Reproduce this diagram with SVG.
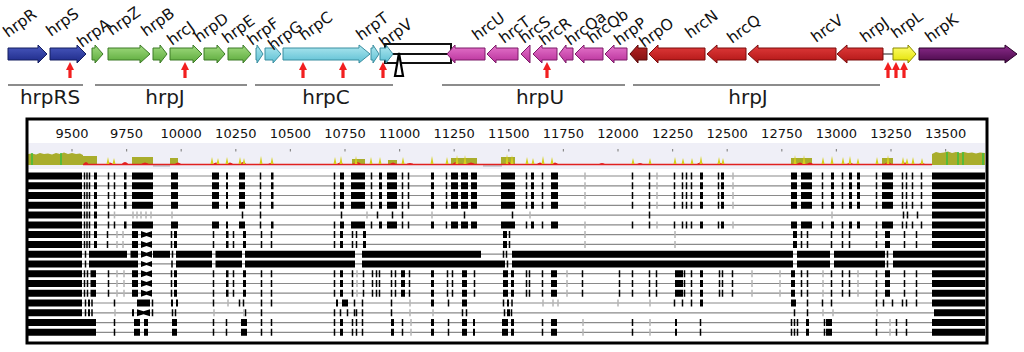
<svg xmlns="http://www.w3.org/2000/svg" width="1024" height="352" viewBox="0 0 1024 352">
<style>
.gl{font-family:"DejaVu Sans",Verdana,sans-serif;font-size:15.5px;fill:#111}
.ol{font-family:"DejaVu Sans",Verdana,sans-serif;font-size:20px;fill:#1a1a1a;text-anchor:middle}
.tl{font-family:"DejaVu Sans",Verdana,sans-serif;font-size:13px;fill:#111;text-anchor:middle}
.op{stroke:#666;stroke-width:1.5;fill:none}
.ln{stroke:#8a8a8a;stroke-width:1.2;fill:none}
.bk{stroke:#000;stroke-width:7;fill:none}
.tk{stroke:#000;stroke-width:1.5;fill:none}
.ft{stroke:#b5b5b5;stroke-width:1.5;fill:none}
.bt{fill:#000}
.ra{fill:#f21f1f}
.sp{fill:#d6cf1e}
.rh{fill:#e32020}
.ov{fill:#a9ad2c}
.gB{fill:url(#gB);stroke:#151e60;stroke-width:1}
.gG{fill:url(#gG);stroke:#3c7a26;stroke-width:1}
.gC{fill:url(#gC);stroke:#3a8ea0;stroke-width:1}
.gM{fill:url(#gM);stroke:#7c1a68;stroke-width:1}
.gR{fill:url(#gR);stroke:#7a0c0c;stroke-width:1}
.gO{fill:url(#gO);stroke:#5a0808;stroke-width:1}
.gY{fill:url(#gY);stroke:#8a8a00;stroke-width:1}
.gP{fill:url(#gP);stroke:#2a002a;stroke-width:1}
</style>
<defs>
<linearGradient id="gB" x1="0" y1="0" x2="0" y2="1"><stop offset="0" stop-color="#4a5ac0"/><stop offset="1" stop-color="#1c2886"/></linearGradient>
<linearGradient id="gG" x1="0" y1="0" x2="0" y2="1"><stop offset="0" stop-color="#a2dc80"/><stop offset="1" stop-color="#5aa93a"/></linearGradient>
<linearGradient id="gC" x1="0" y1="0" x2="0" y2="1"><stop offset="0" stop-color="#b0e8f0"/><stop offset="1" stop-color="#5cbfd3"/></linearGradient>
<linearGradient id="gM" x1="0" y1="0" x2="0" y2="1"><stop offset="0" stop-color="#e676cc"/><stop offset="1" stop-color="#b8309a"/></linearGradient>
<linearGradient id="gR" x1="0" y1="0" x2="0" y2="1"><stop offset="0" stop-color="#e23c3c"/><stop offset="1" stop-color="#b01515"/></linearGradient>
<linearGradient id="gO" x1="0" y1="0" x2="0" y2="1"><stop offset="0" stop-color="#b82424"/><stop offset="1" stop-color="#7e1010"/></linearGradient>
<linearGradient id="gY" x1="0" y1="0" x2="0" y2="1"><stop offset="0" stop-color="#ffff70"/><stop offset="1" stop-color="#e2e000"/></linearGradient>
<linearGradient id="gP" x1="0" y1="0" x2="0" y2="1"><stop offset="0" stop-color="#8c2c8c"/><stop offset="1" stop-color="#480848"/></linearGradient>
<path id="up" d="M-4 70L0 62L4 70H1.6V78H-1.6V70Z"/>
<g id="pA">
<path class="ln" d="M82 0H932"/>
<path class="bk" d="M28 0H82M94 0H97M124 0H126.5M132 0H153M171 0H178M212 0H219M226 0H228M239 0H245M271 0H273.5M340 0H344M351 0H365M379 0H382M387 0H397M431 0H434M451 0H458M461 0H468M471 0H477M501 0H515M531 0H534M551 0H558M700 0H703M721 0H724M791 0H797M801 0H812M831 0H834M849 0H852M857 0H860M882 0H893M932 0H985"/>
<path class="tk" d="M84.5-3.5v7M87-3.5v7M89.5-3.5v7M108.5-3.5v7M114.5-3.5v7M260.5-3.5v7M334.5-3.5v7M371.5-3.5v7M402.5-3.5v7M408.5-3.5v7M446.5-3.5v7M526.5-3.5v7M542.5-3.5v7M632.5-3.5v7M649.5-3.5v7M674.5-3.5v7M682.5-3.5v7M686.5-3.5v7M691.5-3.5v7M718.5-3.5v7M822.5-3.5v7M842.5-3.5v7M876.5-3.5v7M902.5-3.5v7M906.5-3.5v7M912.5-3.5v7M921.5-3.5v7"/>
<path class="ft" d="M585-3.5v7M657-3.5v7M733-3.5v7"/>
</g>
<g id="pB">
<path class="ln" d="M82 0H932"/>
<path class="bk" d="M28 0H82M94 0H97M932 0H985"/>
<path class="tk" d="M84.5-3.5v7M87-3.5v7M89.5-3.5v7M108.5-3.5v7M242.5-3.5v7M260.5-3.5v7M341.5-3.5v7M377.5-3.5v7M392.5-3.5v7M402.5-3.5v7M464.5-3.5v7M512.5-3.5v7M649.5-3.5v7M903.5-3.5v7M907.5-3.5v7M917.5-3.5v7"/>
<path class="ft" d="M114.5-3.5v7M133-3.5v7M137-3.5v7M141-3.5v7M146-3.5v7M151-3.5v7M172-3.5v7M367-3.5v7M432-3.5v7M530-3.5v7M832-3.5v7"/>
</g>
<g id="pC">
<path class="ln" d="M82 0H932"/>
<path class="bk" d="M28 0H82M94 0H97M132 0H138M174 0H177M226 0H228.5M243 0H246M340 0H343M363 0H366M503 0H507M793 0H797M885 0H890M932 0H985"/>
<path class="bt" d="M141-3.5L146.5-1.5L152-3.5V3.5L146.5 1.5L141 3.5Z"/>
<path class="tk" d="M84.5-3.5v7M87-3.5v7M89.5-3.5v7M107.5-3.5v7M171.5-3.5v7M213.5-3.5v7M233.5-3.5v7M261.5-3.5v7M271.5-3.5v7M334.5-3.5v7M352.5-3.5v7M356.5-3.5v7M509.5-3.5v7M801.5-3.5v7M807.5-3.5v7M831.5-3.5v7M842.5-3.5v7M849.5-3.5v7M876.5-3.5v7M904.5-3.5v7M916.5-3.5v7"/>
<path class="ft" d="M117-3.5v7M123-3.5v7M585-3.5v7M675-3.5v7"/>
</g>
<g id="pD">
<path class="ln" d="M82 0H932"/>
<path class="bk" d="M28 0H82M89 0H127M130.5 0H138M153 0H170M176 0H212M215.5 0H242M245 0H355M362 0H481M512 0H793M797 0H830M834 0H885M893 0H985"/>
<path class="bt" d="M141-3.5L146.5-1.5L152-3.5V3.5L146.5 1.5L141 3.5Z"/>
<path class="tk" d="M85.5-3.5v7M172.5-3.5v7M503.5-3.5v7M506.5-3.5v7M887.5-3.5v7"/>
</g>
<g id="pD2">
<path class="ln" d="M82 0H932"/>
<path class="bk" d="M28 0H82M89 0H138M176 0H212M215.5 0H242M245 0H355M362 0H505M512 0H793M797 0H830M834 0H885M893 0H985"/>
<path class="bt" d="M141-3L146.5-1L152-3V3L146.5 1L141 3Z"/>
<path class="tk" d="M85.5-3.5v7M172-3.5v7M507.5-3.5v7M887.5-3.5v7"/>
</g>
<g id="pE">
<path class="ln" d="M82 0H932"/>
<path class="bk" d="M28 0H82M90.5 0H96M132 0H138M174 0H177M226 0H228.5M243 0H246M340 0H343M401 0H405M431 0H434M462 0H467M503 0H508M511 0H514M551 0H557M675 0H683M700 0H703M791 0H795M885 0H890M932 0H985"/>
<path class="bt" d="M141-3.5L146.5-1.5L152-3.5V3.5L146.5 1.5L141 3.5Z"/>
<path class="tk" d="M84.5-3.5v7M87.5-3.5v7M108.5-3.5v7M171.5-3.5v7M213.5-3.5v7M233.5-3.5v7M261.5-3.5v7M271.5-3.5v7M334.5-3.5v7M352.5-3.5v7M363.5-3.5v7M372.5-3.5v7M376.5-3.5v7M379.5-3.5v7M391.5-3.5v7M395.5-3.5v7M409.5-3.5v7M447.5-3.5v7M452.5-3.5v7M474.5-3.5v7M526.5-3.5v7M529.5-3.5v7M542.5-3.5v7M582.5-3.5v7M619.5-3.5v7M632.5-3.5v7M649.5-3.5v7M656.5-3.5v7M684.5-3.5v7M691.5-3.5v7M719.5-3.5v7M722.5-3.5v7M732.5-3.5v7M801.5-3.5v7M807.5-3.5v7M831.5-3.5v7M842.5-3.5v7M849.5-3.5v7M876.5-3.5v7M904.5-3.5v7M916.5-3.5v7"/>
<path class="ft" d="M117-3.5v7M124-3.5v7M357-3.5v7M567-3.5v7M752-3.5v7M780-3.5v7M823-3.5v7M858-3.5v7"/>
</g>
<g id="pF">
<path class="ln" d="M82 0H932"/>
<path class="bk" d="M28 0H82M88 0H90M137 0H150M171 0H173M176 0H178M336 0H338M342 0H348M431 0H434M462 0H467M507 0H509M700 0H703M791 0H796M932 0H985"/>
<path class="tk" d="M85.5-3.5v7M92-3.5v7M114.5-3.5v7M152.5-3.5v7M213.5-3.5v7M239.5-3.5v7M243.5-3.5v7M261.5-3.5v7M271.5-3.5v7M354.5-3.5v7M362.5-3.5v7M391.5-3.5v7M448.5-3.5v7M503.5-3.5v7M512-3.5v7M674.5-3.5v7M682.5-3.5v7M691.5-3.5v7M807.5-3.5v7M822.5-3.5v7M831.5-3.5v7M876.5-3.5v7M883.5-3.5v7M892.5-3.5v7M902.5-3.5v7M906.5-3.5v7M916.5-3.5v7"/>
<path class="ft" d="M228-3.5v7M410-3.5v7M543-3.5v7M553-3.5v7M558-3.5v7M618-3.5v7M650-3.5v7"/>
</g>
<g id="pG">
<path class="ln" d="M82 0H934"/>
<path class="bk" d="M28 0H82M88 0H90M132 0H134M507 0H510M934 0H985"/>
<path class="bt" d="M137-3.5L143.5-1.5L150-3.5V3.5L143.5 1.5L137 3.5Z"/>
<path class="tk" d="M85.5-3.5v7M92-3.5v7M152.5-3.5v7M172.5-3.5v7M175.5-3.5v7M245.5-3.5v7M261.5-3.5v7M334.5-3.5v7M340.5-3.5v7M347.5-3.5v7M354.5-3.5v7M356.5-3.5v7M362.5-3.5v7M391.5-3.5v7M462.5-3.5v7M466.5-3.5v7M504.5-3.5v7M511.5-3.5v7M794.5-3.5v7M807.5-3.5v7"/>
<path class="ft" d="M115-3.5v7M214-3.5v7M244-3.5v7M410-3.5v7M433-3.5v7M823-3.5v7M833-3.5v7M877-3.5v7"/>
</g>
<g id="pH">
<path class="ln" d="M96 0H932"/>
<path class="bk" d="M28 0H96M134 0H140M144 0H148M172 0H177M241 0H247M340 0H343M391 0H394M431 0H434M462 0H467M473 0H475M502 0H508M511 0H514M551 0H557M675 0H677M806 0H809M826 0H832M932 0H985"/>
<path class="tk" d="M114.5-3.5v7M213.5-3.5v7M226.5-3.5v7M261.5-3.5v7M271.5-3.5v7M334.5-3.5v7M352.5-3.5v7M356.5-3.5v7M362.5-3.5v7M402.5-3.5v7M448.5-3.5v7M542.5-3.5v7M632.5-3.5v7M700.5-3.5v7M791.5-3.5v7M794.5-3.5v7M797.5-3.5v7M824.5-3.5v7M876.5-3.5v7M896.5-3.5v7M906.5-3.5v7"/>
<path class="ft" d="M411-3.5v7M583-3.5v7M650-3.5v7M890-3.5v7"/>
</g>
</defs>
<rect width="1024" height="352" fill="#fff"/>

<g id="operons">
<g id="op-hrpRS"><path class="op" d="M8 85H83"/><text class="ol" x="50" y="104">hrpRS</text></g>
<g id="op-hrpJ1"><path class="op" d="M95 85H247"/><text class="ol" x="165" y="104">hrpJ</text></g>
<g id="op-hrpC"><path class="op" d="M255 85H393"/><text class="ol" x="326" y="104">hrpC</text></g>
<g id="op-hrpU"><path class="op" d="M442 85H625"/><text class="ol" x="540" y="104">hrpU</text></g>
<g id="op-hrpJ2"><path class="op" d="M633 85H880"/><text class="ol" x="748" y="104">hrpJ</text></g>
</g>

<g id="connectors">
<path d="M883 54H893" stroke="#666" stroke-width="1.5" fill="none"/>
</g>

<g id="insertion">
<rect x="385" y="44" width="66" height="10" fill="#fff" stroke="#111" stroke-width="2"/>
<rect x="385" y="54" width="66" height="9" fill="#fff" stroke="#111" stroke-width="2"/>
</g>

<g id="genes">
<g id="hrpR"><path class="gB" d="M8 48H38V45L47 54L38 63V60H8Z"/><g transform="translate(8 38) rotate(-36)"><text class="gl">hrpR</text></g></g>
<g id="hrpS"><path class="gB" d="M50 48H77V45L86 54L77 63V60H50Z"/><g transform="translate(51 37) rotate(-36)"><text class="gl">hrpS</text></g></g>
<g id="hrpA"><path class="gG" d="M92 48H95V45L103 54L95 63V60H92Z"/><g transform="translate(82 48) rotate(-36)"><text class="gl">hrpA</text></g></g>
<g id="hrpZ"><path class="gG" d="M108 48H140V45L150 54L140 63V60H108Z"/><g transform="translate(112 36) rotate(-36)"><text class="gl">hrpZ</text></g></g>
<g id="hrpB"><path class="gG" d="M153 48H160V45L167 54L160 63V60H153Z"/><g transform="translate(146 37) rotate(-36)"><text class="gl">hrpB</text></g></g>
<g id="hrcJ"><path class="gG" d="M170 48H193V45L202 54L193 63V60H170Z"/><g transform="translate(172 46) rotate(-36)"><text class="gl">hrcJ</text></g></g>
<g id="hrpD"><path class="gG" d="M204 48H217V45L225 54L217 63V60H204Z"/><g transform="translate(199 43) rotate(-36)"><text class="gl">hrpD</text></g></g>
<g id="hrpE"><path class="gG" d="M228 48H243V45L251 54L243 63V60H228Z"/><g transform="translate(227 44) rotate(-36)"><text class="gl">hrpE</text></g></g>
<g id="hrpF"><path class="gC" d="M256 48H257V45L263 54L257 63V60H256Z"/><g transform="translate(252 46) rotate(-36)"><text class="gl">hrpF</text></g></g>
<g id="hrpG"><path class="gC" d="M265 48H273V45L281 54L273 63V60H265Z"/><g transform="translate(273 51) rotate(-36)"><text class="gl">hrpG</text></g></g>
<g id="hrpC"><path class="gC" d="M283 48H359V45L370 54L359 63V60H283Z"/><g transform="translate(304 41) rotate(-36)"><text class="gl">hrpC</text></g></g>
<g id="hrpT"><path class="gC" d="M371 48H373V45L379 54L373 63V60H371Z"/><g transform="translate(361 41) rotate(-36)"><text class="gl">hrpT</text></g></g>
<g id="hrpV"><path class="gC" d="M380 48H386V45L393 54L386 63V60H380Z"/><g transform="translate(384 48) rotate(-36)"><text class="gl">hrpV</text></g></g>
<g id="hrcU"><path class="gM" d="M485 48H455V45L447 54L455 63V60H485Z"/><g transform="translate(477 41) rotate(-36)"><text class="gl">hrcU</text></g></g>
<g id="hrcT"><path class="gM" d="M518 48H496V45L487 54L496 63V60H518Z"/><g transform="translate(504 44) rotate(-36)"><text class="gl">hrcT</text></g></g>
<g id="hrcS"><path class="gM" d="M530 45L521 54L530 63Z"/><g transform="translate(524 44) rotate(-36)"><text class="gl">hrcS</text></g></g>
<g id="hrcR"><path class="gM" d="M557 48H542V45L533 54L542 63V60H557Z"/><g transform="translate(544 46) rotate(-36)"><text class="gl">hrcR</text></g></g>
<g id="hrcQa"><path class="gM" d="M573 48H566V45L559 54L566 63V60H573Z"/><g transform="translate(570 46) rotate(-36)"><text class="gl">hrcQa</text></g></g>
<g id="hrcQb"><path class="gM" d="M603 48H584V45L575 54L584 63V60H603Z"/><g transform="translate(592 44) rotate(-36)"><text class="gl">hrcQb</text></g></g>
<g id="hrpP"><path class="gM" d="M627 48H614V45L605 54L614 63V60H627Z"/><g transform="translate(619 46) rotate(-36)"><text class="gl">hrpP</text></g></g>
<g id="hrpO"><path class="gO" d="M647 48H638V45L630 54L638 63V60H647Z"/><g transform="translate(644 48) rotate(-36)"><text class="gl">hrpO</text></g></g>
<g id="hrcN"><path class="gR" d="M705 48H658V45L649 54L658 63V60H705Z"/><g transform="translate(690 39) rotate(-36)"><text class="gl">hrcN</text></g></g>
<g id="hrcQ"><path class="gR" d="M746 48H717V45L707 54L717 63V60H746Z"/><g transform="translate(732 44) rotate(-36)"><text class="gl">hrcQ</text></g></g>
<g id="hrcV"><path class="gR" d="M836 48H758V45L748 54L758 63V60H836Z"/><g transform="translate(816 43) rotate(-36)"><text class="gl">hrcV</text></g></g>
<g id="hrpJ"><path class="gR" d="M883 48H847V45L837 54L847 63V60H883Z"/><g transform="translate(865 43) rotate(-36)"><text class="gl">hrpJ</text></g></g>
<g id="hrpL"><path class="gY" d="M893 48H908V45L916 54L908 63V60H893Z"/><g transform="translate(896 39) rotate(-36)"><text class="gl">hrpL</text></g></g>
<g id="hrpK"><path class="gP" d="M919 48H1005V45L1017 54L1005 63V60H919Z"/><g transform="translate(930 43) rotate(-36)"><text class="gl">hrpK</text></g></g>
</g>

<g id="insertion-marker">
<path d="M399 53L403 76H395Z" fill="#fff" stroke="#000" stroke-width="2.2" stroke-linejoin="miter"/>
</g>

<g id="mutations" class="ra">
<use href="#up" x="70"/><use href="#up" x="185"/><use href="#up" x="303"/><use href="#up" x="343"/><use href="#up" x="383"/><use href="#up" x="547"/><use href="#up" x="888"/><use href="#up" x="896"/><use href="#up" x="904"/>
</g>

<g id="alignment">
<rect x="28" y="143" width="957" height="26" fill="#efeff7"/>
<path d="M72 149v2.5M126.6 149v2.5M181.2 149v2.5M235.8 149v2.5M290.4 149v2.5M345 149v2.5M399.6 149v2.5M454.2 149v2.5M508.8 149v2.5M563.4 149v2.5M618 149v2.5M672.6 149v2.5M727.2 149v2.5M781.8 149v2.5M836.4 149v2.5M891 149v2.5M945.6 149v2.5" stroke="#8a8a8a" stroke-width="1.2"/>
<g id="scale">
<text class="tl" x="72" y="138">9500</text><text class="tl" x="126.6" y="138">9750</text><text class="tl" x="181.2" y="138">10000</text><text class="tl" x="235.8" y="138">10250</text><text class="tl" x="290.4" y="138">10500</text><text class="tl" x="345" y="138">10750</text><text class="tl" x="399.6" y="138">11000</text><text class="tl" x="454.2" y="138">11250</text><text class="tl" x="508.8" y="138">11500</text><text class="tl" x="563.4" y="138">11750</text><text class="tl" x="618" y="138">12000</text><text class="tl" x="672.6" y="138">12250</text><text class="tl" x="727.2" y="138">12500</text><text class="tl" x="781.8" y="138">12750</text><text class="tl" x="836.4" y="138">13000</text><text class="tl" x="891" y="138">13250</text><text class="tl" x="945.6" y="138">13500</text>
</g>
<g id="conservation">
<path d="M153 165.5H170M483 165.5H502" stroke="#c4c4cc" stroke-width="2.5"/>
<path class="ov" d="M28 165V154L32 153.5L36 154.5L40 153L44 154L48 153.5L52 154.5L56 153L60 154L64 152.5L68 154L72 153L76 154L80 153.5L83 155V165Z"/>
<path class="ov" d="M932 165V154L936 152L940 153L944 152.5L948 151.5L952 153L956 152L960 153L964 152L968 153L972 152.5L976 153.5L980 152.5L985 153V165Z"/>
<path d="M32 153v12M61 153v12M947 152v13M958 152v13M963 152v13M983 153v12" stroke="#3cbf3c" stroke-width="1.5"/>
<path class="ov" d="M83 165V156H97V165ZM132 165V157H153V165ZM170 165V158H178V165ZM352 165V159H365V165ZM388 165V160H397V165ZM451 165V158H477V165ZM501 165V157H515V165ZM791 165V158H812V165ZM882 165V158H893V165Z"/>
<path d="M83 164.5H932" stroke="#e02020" stroke-width="1.6"/>
<path class="rh" d="M83 165Q86 159 89 165ZM106 165Q110 160 114 165ZM121 165Q125 159 129 165ZM140 165Q145 160 150 165ZM174 165Q178 160 182 165ZM212 165Q216 160 220 165ZM226 165Q230 160 234 165ZM239 165Q243 159 247 165ZM267 165Q271 161 275 165ZM336 165Q340 160 344 165ZM352 165Q357 159 362 165ZM389 165Q393 160 397 165ZM405 165Q410 161 415 165ZM452 165Q456 159 460 165ZM466 165Q471 160 476 165ZM504 165Q508 159 512 165ZM536 165Q540 160 544 165ZM551 165Q555 160 559 165ZM598 165Q602 161 606 165ZM636 165Q640 161 644 165ZM696 165Q700 160 704 165ZM716 165Q720 161 724 165ZM796 165Q800 160 804 165ZM806 165Q810 160 814 165ZM846 165Q850 160 854 165ZM884 165Q888 159 892 165ZM901 165Q905 160 909 165ZM918 165Q922 161 926 165Z"/>
<path class="sp" d="M106.5 164L108 157L109.5 164ZM112.5 164L114 158L115.5 164ZM210.5 164L212 157L213.5 164ZM216.5 164L218 158L219.5 164ZM225.5 164L227 157L228.5 164ZM238.5 164L240 157L241.5 164ZM242.5 164L244 158L245.5 164ZM259.5 164L261 156L262.5 164ZM270.5 164L272 157L273.5 164ZM333.5 164L335 157L336.5 164ZM339.5 164L341 156L342.5 164ZM354.5 164L356 156L357.5 164ZM369.5 164L371 157L372.5 164ZM378.5 164L380 157L381.5 164ZM401.5 164L403 157L404.5 164ZM430.5 164L432 156L433.5 164ZM445.5 164L447 157L448.5 164ZM455.5 164L457 155L458.5 164ZM463.5 164L465 155L466.5 164ZM505.5 164L507 154L508.5 164ZM510.5 164L512 155L513.5 164ZM525.5 164L527 157L528.5 164ZM531.5 164L533 158L534.5 164ZM541.5 164L543 156L544.5 164ZM550.5 164L552 157L553.5 164ZM631.5 164L633 158L634.5 164ZM648.5 164L650 158L651.5 164ZM673.5 164L675 157L676.5 164ZM681.5 164L683 158L684.5 164ZM690.5 164L692 158L693.5 164ZM699.5 164L701 156L702.5 164ZM717.5 164L719 157L720.5 164ZM721.5 164L723 158L724.5 164ZM793.5 164L795 155L796.5 164ZM802.5 164L804 155L805.5 164ZM821.5 164L823 157L824.5 164ZM830.5 164L832 156L833.5 164ZM841.5 164L843 157L844.5 164ZM848.5 164L850 156L851.5 164ZM856.5 164L858 158L859.5 164ZM875.5 164L877 157L878.5 164ZM886.5 164L888 155L889.5 164ZM901.5 164L903 157L904.5 164ZM905.5 164L907 158L908.5 164ZM911.5 164L913 157L914.5 164ZM920.5 164L922 158L923.5 164Z"/>
</g>
<g id="rows">
<use href="#pA" y="176"/>
<use href="#pA" y="185.8"/>
<use href="#pA" y="195.5"/>
<use href="#pA" y="205.3"/>
<use href="#pB" y="215.1"/>
<use href="#pA" y="224.9"/>
<use href="#pC" y="234.6"/>
<use href="#pC" y="244.4"/>
<use href="#pD" y="254.2"/>
<use href="#pD2" y="263.9"/>
<use href="#pE" y="273.7"/>
<use href="#pE" y="283.5"/>
<use href="#pE" y="293.2"/>
<use href="#pF" y="303"/>
<use href="#pG" y="312.8"/>
<use href="#pH" y="322.6"/>
<use href="#pH" y="332.3"/>
</g>
<rect x="27" y="119" width="960" height="224" fill="none" stroke="#000" stroke-width="3"/>
</g>
</svg>
